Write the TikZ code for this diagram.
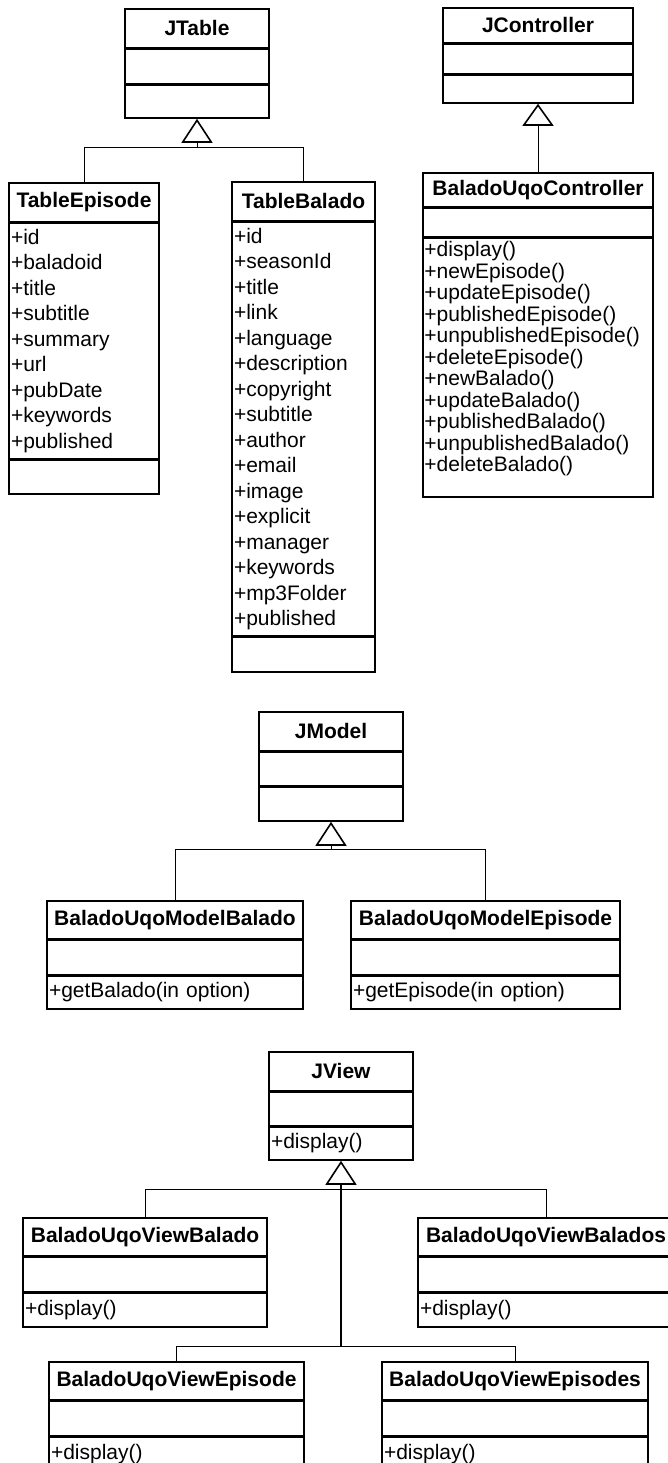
\documentclass[tikz,border=0pt]{standalone}
\usepackage{fontspec}
\setmainfont{Liberation Sans}
\usetikzlibrary{positioning,arrows.meta}

\begin{document}
\begin{tikzpicture}
[
x=1pt, y=1pt,
font={\fontsize{21pt}{25.5pt}\selectfont},
classpart/.style={draw, line width=1.6pt, inner sep=0pt, minimum width=#1, minimum height=34pt, anchor=north},
classhead/.style={classpart=#1, minimum height=39pt, font={\fontsize{21pt}{25.5pt}\selectfont\bfseries}},
classlist/.style={draw, line width=1.6pt, inner xsep=2pt, inner ysep=0pt, text width=#1, align=left, anchor=north},
ctrlfont/.style={font={\fontsize{21pt}{21.5pt}\selectfont}},
link/.style={line width=1pt},
inherit/.style={line width=1pt, -{Triangle[open, length=#1, width=31pt, line width=1.6pt]}},
inherit/.default=24pt
]
\useasboundingbox (0,0) rectangle (668,-1463);

% JTable
\node[classhead=144pt] (jtable) at (197,-8) {JTable};
\node[classpart=144pt, below=0pt of jtable] (jtable-attr) {};
\node[classpart=144pt, minimum height=33pt, below=0pt of jtable-attr] (jtable-ops) {};

\node[classhead=150pt] (tepisode) at (84,-182) {TableEpisode};
\node[classlist=146pt, minimum height=235pt, below=0pt of tepisode] (tepisode-attr)
{+id\\+baladoid\\+title\\+subtitle\\+summary\\+url\\+pubDate\\+keywords\\+published};
\node[classpart=150pt, below=0pt of tepisode-attr] (tepisode-ops) {};

\node[classhead=143pt] (tbalado) at (303.5,-181) {TableBalado};
\node[classlist=139pt, minimum height=413pt, below=0pt of tbalado] (tbalado-attr)
{+id\\+seasonId\\+title\\+link\\+language\\+description\\+copyright\\+subtitle\\+author\\+email\\+image\\+explicit\\+manager\\+keywords\\+mp3Folder\\+published};
\node[classpart=143pt, minimum height=35pt, below=0pt of tbalado-attr] (tbalado-ops) {};

\coordinate[below=29pt of jtable-ops] (jtable-bus);
\draw[link] (tepisode.north) |- (jtable-bus) -| (tbalado.north);
\draw[inherit] (jtable-bus) -- (jtable-ops.south);

% JController
\node[classhead=190pt, minimum height=35pt] (jcontroller) at (538,-7) {JController};
\node[classpart=190pt, minimum height=29pt, below=0pt of jcontroller] (jcontroller-attr) {};
\node[classpart=190pt, minimum height=28pt, below=0pt of jcontroller-attr] (jcontroller-ops) {};

\node[classhead=230pt, minimum height=34pt] (ctrl) at (538,-172) {BaladoUqoController};
\node[classpart=230pt, minimum height=28pt, below=0pt of ctrl] (ctrl-attr) {};
\node[classpart=230pt, minimum height=259pt, below=0pt of ctrl-attr] (ctrl-ops) {};
\node[ctrlfont, anchor=north west, inner xsep=2pt, inner ysep=4.5pt, text height=15pt, text width=226pt, align=left]
(ctrl-list) at (ctrl-ops.north west)
{+display()\\+newEpisode()\\+updateEpisode()\\+publishedEpisode()\\+unpublishedEpisode()\\+deleteEpisode()\\+newBalado()\\+updateBalado()\\+publishedBalado()\\+unpublishedBalado()\\+deleteBalado()};

\draw[inherit=22pt] (ctrl.north) -- (jcontroller-ops.south);

% JModel
\node[classhead=144pt] (jmodel) at (331,-711) {JModel};
\node[classpart=144pt, minimum height=33pt, below=0pt of jmodel] (jmodel-attr) {};
\node[classpart=144pt, below=0pt of jmodel-attr] (jmodel-ops) {};

\node[classhead=256pt, minimum height=38pt] (mbalado) at (175,-900) {BaladoUqoModelBalado};
\node[classpart=256pt, below=0pt of mbalado] (mbalado-attr) {};
\node[classlist=252pt, minimum height=33pt, below=0pt of mbalado-attr] (mbalado-ops) {+getBalado(in option)};

\node[classhead=269pt, minimum height=38pt] (mepisode) at (485.5,-900) {BaladoUqoModelEpisode};
\node[classpart=269pt, below=0pt of mepisode] (mepisode-attr) {};
\node[classlist=265pt, minimum height=33pt, below=0pt of mepisode-attr] (mepisode-ops) {+getEpisode(in option)};

\coordinate[below=28pt of jmodel-ops] (jmodel-bus);
\draw[link] (mbalado.north) |- (jmodel-bus) -| (mepisode.north);
\draw[inherit] (jmodel-bus) -- (jmodel-ops.south);

% JView
\node[classhead=144pt] (jview) at (341,-1051) {JView};
\node[classpart=144pt, minimum height=33pt, below=0pt of jview] (jview-attr) {};
\node[classlist=140pt, minimum height=33pt, below=0pt of jview-attr] (jview-ops) {+display()};

\node[classhead=244pt, minimum height=38pt] (vbalado) at (145,-1217) {BaladoUqoViewBalado};
\node[classpart=244pt, below=0pt of vbalado] (vbalado-attr) {};
\node[classlist=240pt, minimum height=34pt, below=0pt of vbalado-attr] (vbalado-ops) {+display()};

\node[classhead=256pt, minimum height=38pt] (vbalados) at (546,-1217) {BaladoUqoViewBalados};
\node[classpart=256pt, below=0pt of vbalados] (vbalados-attr) {};
\node[classlist=252pt, minimum height=34pt, below=0pt of vbalados-attr] (vbalados-ops) {+display()};

\node[classhead=255pt, minimum height=38pt] (vepisode) at (176.5,-1361) {BaladoUqoViewEpisode};
\node[classpart=255pt, below=0pt of vepisode] (vepisode-attr) {};
\node[classlist=251pt, minimum height=34pt, below=0pt of vepisode-attr] (vepisode-ops) {+display()};

\node[classhead=266pt, minimum height=38pt] (vepisodes) at (515,-1361) {BaladoUqoViewEpisodes};
\node[classpart=266pt, below=0pt of vepisodes] (vepisodes-attr) {};
\node[classlist=262pt, minimum height=34pt, below=0pt of vepisodes-attr] (vepisodes-ops) {+display()};

\coordinate[below=28.5pt of jview-ops] (jview-bus);
\coordinate[below=186pt of jview-ops] (jview-low);
\draw[link] (vbalado.north) |- (jview-bus) -| (vbalados.north);
\draw[link] (vepisode.north) |- (jview-low) -| (vepisodes.north);
\draw[inherit, line width=1.6pt] (jview-low) -- (jview-ops.south);
\end{tikzpicture}
\end{document}
